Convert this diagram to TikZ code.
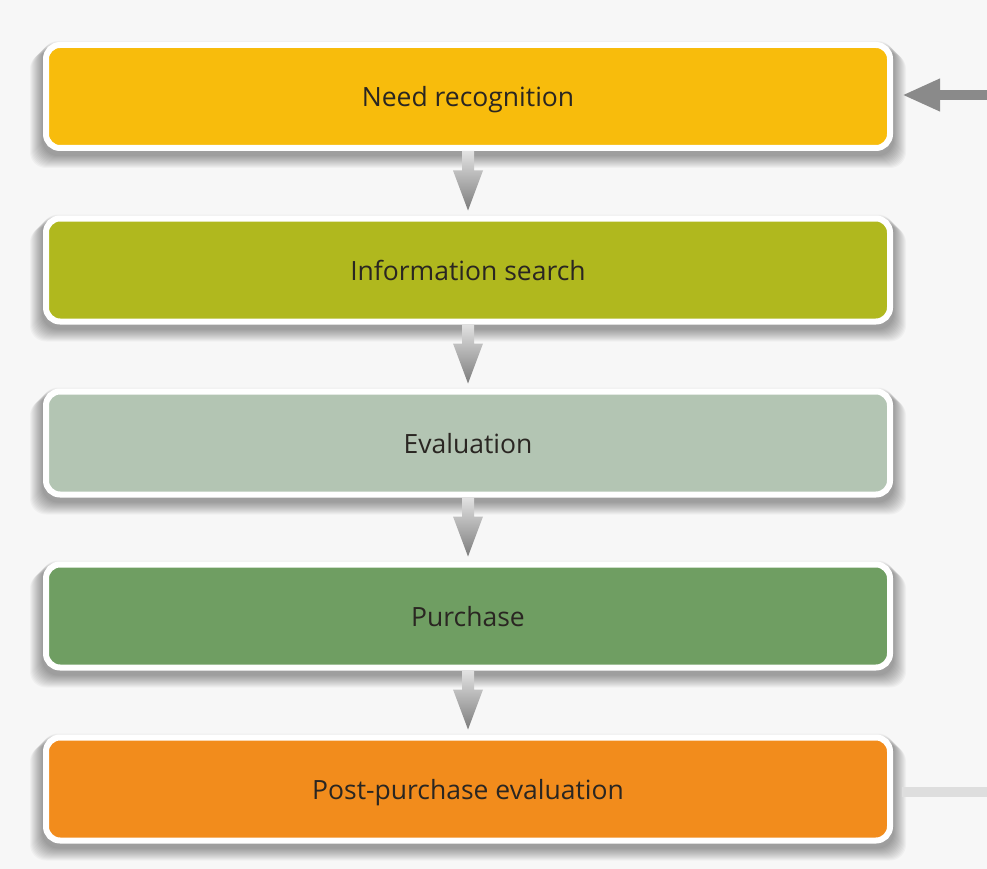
\documentclass[tikz,border=0pt]{standalone}
\usepackage{fontspec}
\setmainfont{Open Sans}
\usetikzlibrary{arrows.meta}
\definecolor{bg}{HTML}{F7F7F7}
\definecolor{c1}{HTML}{F8BC0C}
\definecolor{c2}{HTML}{B0B81E}
\definecolor{c3}{HTML}{B3C5B3}
\definecolor{c4}{HTML}{6F9E62}
\definecolor{c5}{HTML}{F28C1C}
\definecolor{txt}{HTML}{2A2622}
\definecolor{arr}{HTML}{8A8A8A}
\definecolor{arrtop}{HTML}{E2E2E2}
\definecolor{arrbot}{HTML}{7C7C7C}
\definecolor{lline}{HTML}{DEDEDE}
\tikzset{
  stagebox/.style={draw=white, line width=6pt, rounded corners=14pt,
    minimum width=844pt, minimum height=103pt, inner sep=0pt,
    text height=26pt, text depth=5pt,
    font=\fontsize{26.5}{30}\selectfont, text=txt},
  arrowshade/.style={top color=arrtop, bottom color=arrbot, draw=none},
  backarrow/.style={draw=arr, line width=10pt, -{Triangle[width=30pt,length=38pt]}},
  backline/.style={draw=lline, line width=10pt},
}
\newcommand{\shadowat}[1]{%
  \foreach \i in {1,...,13}{%
    \fill[black, opacity=0.03, rounded corners=16pt]
      (43-\i, -#1+54.5+2-\i) rectangle (893+\i, -#1-54.5-4-\i);
  }%
}
\newcommand{\stepdownarrow}[2]{%
  \shade[arrowshade] ([xshift=-6pt]#1.south) -- ([xshift=6pt]#1.south)
    -- ([xshift=6pt,yshift=45pt]#2.north) -- ([xshift=15pt,yshift=45pt]#2.north)
    -- ([yshift=5pt]#2.north) -- ([xshift=-15pt,yshift=45pt]#2.north)
    -- ([xshift=-6pt,yshift=45pt]#2.north) -- cycle;}
\begin{document}
\begin{tikzpicture}[x=1pt,y=1pt]
\fill[bg] (0,0) rectangle (987,-869);
\useasboundingbox (0,0) rectangle (987,-869);
\shadowat{96.5}
\shadowat{270}
\shadowat{443}
\shadowat{616}
\shadowat{789}
\node[stagebox, fill=c1] (n1) at (468,-96.5) {Need recognition};
\node[stagebox, fill=c2] (n2) at (468,-270) {Information search};
\node[stagebox, fill=c3] (n3) at (468,-443) {Evaluation};
\node[stagebox, fill=c4] (n4) at (468,-616) {Purchase};
\node[stagebox, fill=c5] (n5) at (468,-789) {Post-purchase evaluation};
\stepdownarrow{n1}{n2}
\stepdownarrow{n2}{n3}
\stepdownarrow{n3}{n4}
\stepdownarrow{n4}{n5}
\coordinate (rin) at (987,-95);
\coordinate (rout) at (987,-792);
\draw[backarrow] (rin) -- ([xshift=9pt,yshift=1.5pt]n1.east);
\draw[backline] ([xshift=9pt,yshift=-3pt]n5.east) -- (rout);
\end{tikzpicture}
\end{document}
